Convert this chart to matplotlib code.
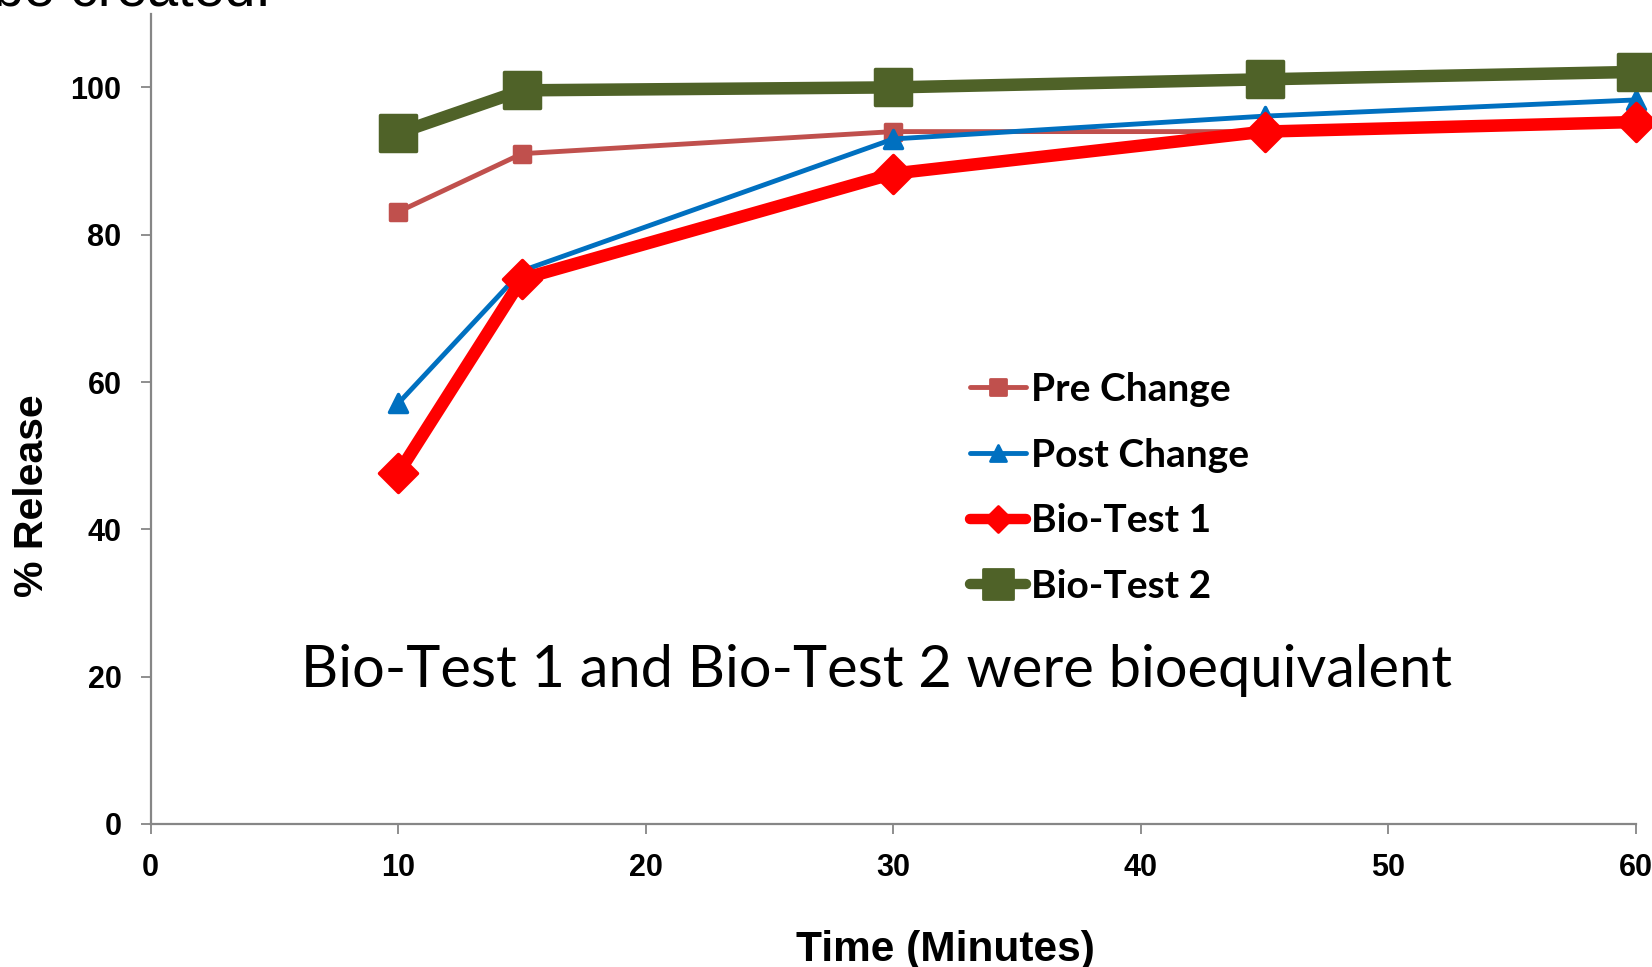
import matplotlib
matplotlib.use("Agg")
import matplotlib.pyplot as plt
from matplotlib.lines import Line2D
from matplotlib.markers import MarkerStyle

# Dissolution time points (minutes)
time_min = [10, 15, 30, 45, 60]

# % release for each batch
pre_change = [83.1, 91.0, 94.0, 94.0, 95.0]
post_change = [57.1, 75.1, 93.0, 96.1, 98.3]
bio_test_1 = [47.6, 74.0, 88.3, 94.0, 95.3]
bio_test_2 = [93.8, 99.6, 100.0, 101.1, 102.1]

series_names = ["Pre Change", "Post Change", "Bio-Test 1", "Bio-Test 2"]

x_ticks = [0, 10, 20, 30, 40, 50, 60]
y_ticks = [0, 20, 40, 60, 80, 100]

axis_gray = "#868686"
tick_font = "Liberation Sans"
callout_font = "Lato"

W, H = 1652, 967
fig = plt.figure(figsize=(W / 100, H / 100), dpi=100)
ax = fig.add_axes([0.0912, 0.1479, 0.8991, 0.8379])


def mk(shape):
    return MarkerStyle(shape, joinstyle="round")


# series styles: colour, marker, markersize, linewidth
styles = [
    ("#C0504D", "s", 12, 3.5),
    ("#0070C0", "^", 13, 3.5),
    ("#FF0000", "D", 19, 9.0),
    ("#4F6228", "s", 26.5, 9.0),
]
values = [pre_change, post_change, bio_test_1, bio_test_2]

for (color, shape, ms, lw), vals in zip(styles, values):
    ax.plot(time_min, vals, color=color, lw=lw,
            marker=mk(shape), markersize=ms,
            markerfacecolor=color, markeredgecolor=color,
            markeredgewidth=2.5, solid_joinstyle="round",
            solid_capstyle="round", clip_on=False)

ax.set_xlim(0, 60)
ax.set_ylim(0, 110)
ax.set_xticks(x_ticks)
ax.set_yticks(y_ticks)

for side in ["top", "right"]:
    ax.spines[side].set_visible(False)
for side in ["left", "bottom"]:
    ax.spines[side].set_color(axis_gray)
    ax.spines[side].set_linewidth(1.6)

ax.tick_params(axis="both", direction="out", length=7, width=1.3,
               color=axis_gray, labelsize=22)
ax.tick_params(axis="x", pad=14)
ax.tick_params(axis="y", pad=14)
for lab in ax.get_xticklabels() + ax.get_yticklabels():
    lab.set_fontfamily(tick_font)
    lab.set_fontweight("bold")

# axis titles placed in figure pixels
fig.text(945 / W, 1 - 950 / H, "Time (Minutes)", fontsize=30.5,
         fontweight="bold", family=tick_font, ha="center", va="center")
fig.text(32 / W, 1 - 496 / H, "% Release", fontsize=29.5,
         fontweight="bold", family=tick_font, ha="center", va="center",
         rotation=90)

# legend with its own, smaller markers
legend_ms = [11, 12, 13, 21]
legend_lw = [3.5, 3.5, 7.5, 7.5]
handles = []
for (color, shape, _, _), ms, lw in zip(styles, legend_ms, legend_lw):
    handles.append(Line2D([], [], color=color, lw=lw, marker=mk(shape),
                          markersize=ms, markerfacecolor=color,
                          markeredgecolor=color, markeredgewidth=2,
                          solid_capstyle="round"))
ax.legend(handles, series_names, loc="upper left",
          bbox_to_anchor=(0.5515, 0.558), frameon=False,
          prop={"family": callout_font, "weight": "bold", "size": 28},
          handlelength=1.45, handletextpad=0.12, labelspacing=0.79,
          borderpad=0, borderaxespad=0)

ax.text(0.489, 0.169, "Bio-Test 1 and Bio-Test 2 were bioequivalent",
        transform=ax.transAxes, ha="center", va="baseline",
        fontsize=41.6, family=callout_font, color="black")

# slide title text cut off at the top edge
fig.text(-0.004, 1 - 5 / H, "be created.", fontsize=40,
         family="Liberation Sans", va="baseline", ha="left")

fig.savefig("out.png", dpi=100)
